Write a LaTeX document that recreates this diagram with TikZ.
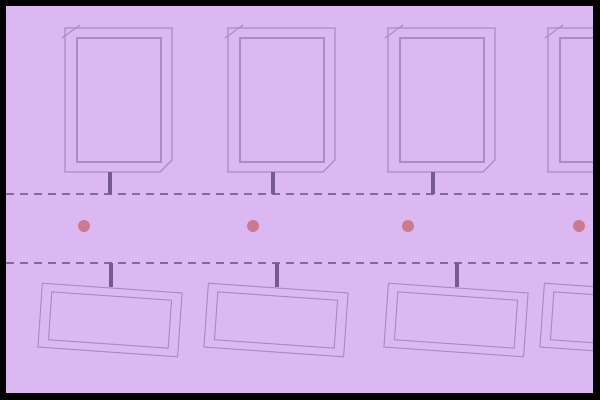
\documentclass[tikz,border=0pt]{standalone}
\begin{document}
\begin{tikzpicture}[x=1pt,y=-1pt,
  boxline/.style={draw=boxc, line width=1.1pt},
  dashline/.style={draw=dashc, line width=1.8pt, dash pattern=on 8pt off 6pt},
  stem/.style={draw=stemc, line width=3.5pt},
  dotmark/.style={circle, fill=dotc, inner sep=0pt, minimum size=12pt},
  ]
\definecolor{bgc}{HTML}{DCB8F2}
\definecolor{boxc}{HTML}{A98DBF}
\definecolor{dashc}{HTML}{84689A}
\definecolor{stemc}{HTML}{765A8E}
\definecolor{dotc}{HTML}{CC7A8E}
\useasboundingbox (0,0) rectangle (600,400);
\fill[black] (0,0) rectangle (600,400);
\fill[bgc] (6,6) rectangle (593,393);
\begin{scope}
\clip (6,6) rectangle (593,393);
% top tablets
\foreach \i/\x in {1/65,2/228,3/388,4/548}{
  \draw[boxline] (\x,28) -- (\x+107,28) -- (\x+107,160) -- (\x+95,172) -- (\x,172) -- cycle;
  \draw[boxline] (\x-3,38) -- (\x+15,25);
  \draw[boxline] (\x+12,38) rectangle (\x+96,162);
  \coordinate (t\i) at (\x+45,172);
}
% bottom tilted boxes
\foreach \i/\x in {1/110,2/276,3/456,4/612}{
  \begin{scope}[shift={(\x,320)}, rotate=-4]
    \draw[boxline] (-70,-32) rectangle (70,32);
    \draw[boxline] (-60,-24) rectangle (60,24);
  \end{scope}
  \coordinate (b\i) at (\x+1,287);
}
% dashed lines
\coordinate (dl1) at (6,194); \coordinate (dr1) at (593,194);
\coordinate (dl2) at (6,263); \coordinate (dr2) at (593,263);
\draw[dashline] (dl1) -- (dr1);
\draw[dashline] (dl2) -- (dr2);
% stems
\foreach \i in {1,2,3}{
  \draw[stem] (t\i) -- (t\i |- dl1);
  \draw[stem] (b\i |- dl2) -- (b\i);
}
% dots
\node[dotmark] (d1) at (84,226) {};
\node[dotmark] (d2) at (253,226) {};
\node[dotmark] (d3) at (408,226) {};
\node[dotmark] (d4) at (579,226) {};
\end{scope}
\end{tikzpicture}
\end{document}
